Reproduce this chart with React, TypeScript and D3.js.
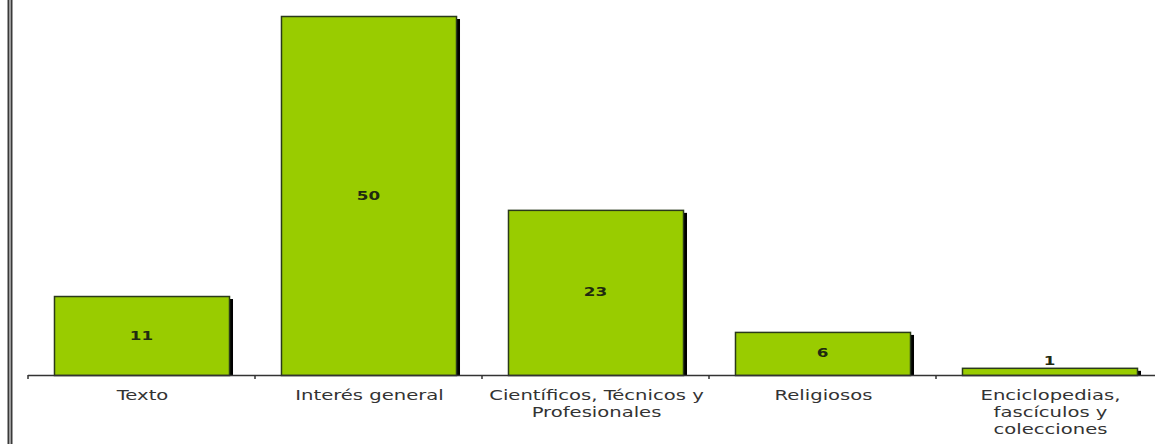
import React from "react";
import * as d3 from "d3";

const categories: string[][] = [
  ["Texto"],
  ["Interés general"],
  ["Científicos, Técnicos y", "Profesionales"],
  ["Religiosos"],
  ["Enciclopedias,", "fascículos y", "colecciones"],
];
const values: number[] = [11, 50, 23, 6, 1];

const W = 1155;
const H = 444;
const baseY = 375;
const topY = 16;
const x0 = 28;
const x1 = 1163;
const SX = 1.4;

export default function App() {
  const keys = categories.map((c) => c.join(" "));
  const x = d3
    .scaleBand<string>()
    .domain(keys)
    .range([x0, x1])
    .paddingInner(0.229)
    .paddingOuter(0.1145);
  const y = d3.scaleLinear().domain([0, 50]).range([baseY, topY]);
  const step = x.step();
  const bw = x.bandwidth();
  const ticks = d3.range(keys.length).map((i) => x0 + i * step);

  return (
    <svg
      width={W}
      height={H}
      style={{ position: "absolute", left: 0, top: 0, background: "#fff" }}
      fontFamily="'DejaVu Sans', Verdana, sans-serif"
    >
      <rect x={0} y={0} width={W} height={H} fill="#fff" />
      <line x1={8.5} x2={8.5} y1={0} y2={H} stroke="#3a3a3a" strokeWidth={2} />
      <line x1={11.5} x2={11.5} y1={0} y2={H} stroke="#3a3a3a" strokeWidth={2} />
      {keys.map((k, i) => {
        const bx = x(k)!;
        const by = y(values[i]);
        const h = baseY - by;
        return (
          <g key={k}>
            <rect x={bx + bw} y={by + 3} width={4} height={h - 3} fill="#000" />
            <rect
              x={bx + 0.5}
              y={by + 0.5}
              width={bw}
              height={h}
              fill="#99cc00"
              stroke="#2a3a1a"
              strokeWidth={1.5}
            />
            <text
              transform={
                values[i] > 2
                  ? `translate(${bx + bw / 2},${(by + baseY) / 2 + 4}) scale(${SX},1)`
                  : `translate(${bx + bw / 2},${by - 3}) scale(${SX},1)`
              }
              textAnchor="middle"
              fontSize={12}
              fontWeight="bold"
              fill="#1f2a10"
            >
              {values[i]}
            </text>
          </g>
        );
      })}
      <line x1={x0} x2={W} y1={baseY + 0.5} y2={baseY + 0.5} stroke="#333" strokeWidth={1.5} />
      {ticks.map((t, i) => (
        <line key={i} x1={t} x2={t} y1={baseY} y2={baseY + 4} stroke="#333" strokeWidth={1.5} />
      ))}
      {keys.map((k, i) => (
        <g key={"l" + k}>
          {categories[i].map((line, j) => (
            <text
              key={j}
              transform={`translate(${x(k)! + bw / 2 + 1},${400 + j * 17}) scale(${SX},1)`}
              textAnchor="middle"
              fontSize={14}
              fill="#333"
            >
              {line}
            </text>
          ))}
        </g>
      ))}
    </svg>
  );
}
